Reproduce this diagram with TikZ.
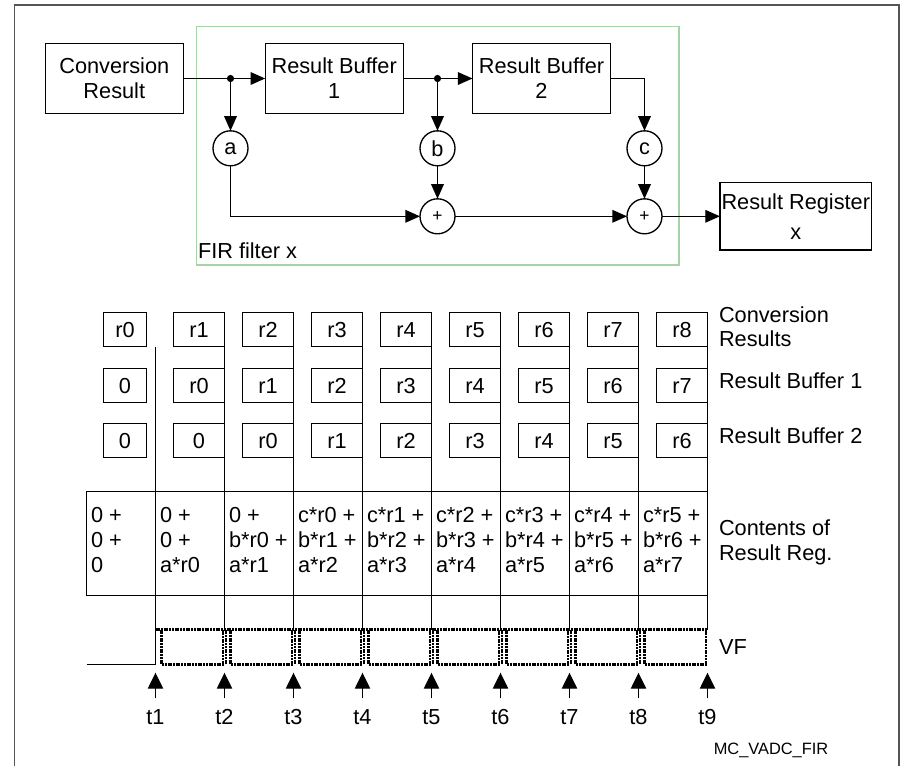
\documentclass[tikz,border=0pt]{standalone}
\usepackage{fontspec}
\setmainfont{Liberation Sans}
\usetikzlibrary{arrows.meta}
\definecolor{firgreen}{HTML}{A8D3A8}
\definecolor{framegray}{HTML}{555555}
\begin{document}
\begin{tikzpicture}[x=0.75pt,y=-0.75pt,line width=1pt,
  every node/.style={inner sep=0pt,outer sep=0pt},
  txt/.style={font=\fontsize{16.3}{18.75}\selectfont},
  blk/.style={draw,txt,align=center,minimum width=103.5pt,minimum height=52.5pt},
  circ/.style={draw,circle,minimum size=26.25pt,txt},
  plus/.style={draw,circle,minimum size=26.25pt,font=\fontsize{13}{15}\selectfont},
  arr/.style={-{Triangle[length=11pt,width=9.5pt]}},
  tarr/.style={-{Triangle[length=12pt,width=11.5pt]}},
  cell/.style={draw,txt,minimum width=38.25pt,minimum height=25.5pt,text height=11.7pt,text depth=0pt},
  tick/.style={line width=1.1pt},
  vfdot/.style={line width=2.1pt,dash pattern=on 1.5pt off 0.55pt,line cap=butt},
  lbl/.style={txt,anchor=west,align=left}]
\useasboundingbox (0,0) rectangle (904,765);
% outer frame
\draw[framegray,line width=1.1pt] (14.7,770) -- (14.7,5) -- (899,5) -- (899,770);
% FIR filter box
\node[draw=firgreen,line width=1pt,minimum width=361.7pt,minimum height=178.7pt] (fir) at (437.85,145.85) {};
\node[txt,anchor=west] (firlbl) at (198,250.5) {FIR filter x};
% blocks
\node[blk] (cr) at (114.3,78.5) {Conversion\\Result};
\node[blk] (rb1) at (334.2,78.5) {Result Buffer\\1};
\node[blk] (rb2) at (541.5,78.5) {Result Buffer\\2};
\node[blk,minimum width=113.8pt,minimum height=50.5pt] (rr) at (795.8,216.3) {Result Register\\[3.75pt]x};
\node[circ] (ca) at (230.5,148.3) {a};
\node[circ] (cb) at (437.5,148.3) {b};
\node[circ] (cc) at (644.5,148.3) {c};
\node[plus] (p1) at (437.5,216.3) {+};
\node[plus] (p2) at (644.5,216.3) {+};
\coordinate (d1) at (230.5,78.5);
\coordinate (d2) at (437.5,78.5);
\fill (d1) circle[radius=2.7pt];
\fill (d2) circle[radius=2.7pt];
\draw[arr] (cr) -- (rb1);
\draw[arr] (rb1) -- (rb2);
\draw[arr] (d1) -- (ca);
\draw[arr] (d2) -- (cb);
\draw[arr] (cb) -- (p1);
\draw[arr] (ca) |- (p1);
\draw[arr] (p1) -- (p2);
\draw[arr] (rb2) -| (cc);
\draw[arr] (cc) -- (p2);
\draw[arr] (p2) -- (rr);
% table: column 0
\node[cell,minimum width=32.25pt] (ra0) at (125,329.5) {r0};
\node[cell,minimum width=32.25pt] (rb0) at (125,385.5) {0};
\node[cell,minimum width=32.25pt] (rc0) at (125,440.5) {0};
\foreach \k/\a/\b/\d in {1/r1/r0/0,2/r2/r1/r0,3/r3/r2/r1,4/r4/r3/r2,5/r5/r4/r3,6/r6/r5/r4,7/r7/r6/r5,8/r8/r7/r6}{
  \pgfmathsetmacro\xc{155.5+\k*69-25.5}
  \node[cell] (ra\k) at (\xc,329.5) {\a};
  \node[cell] (rb\k) at (\xc,385.5) {\b};
  \node[cell] (rc\k) at (\xc,440.5) {\d};
}
% contents box
\node[draw,minimum width=465.75pt,minimum height=78pt] (cont) at (397,543.5) {};
\node[lbl] (ct0) at (91,540) {0 +\\0 +\\0};
\node[lbl] (ct1) at (160,540) {0 +\\0 +\\a*r0};
\node[lbl] (ct2) at (229,540) {0 +\\b*r0 +\\a*r1};
\foreach \k in {3,...,8}{
  \pgfmathsetmacro\xl{155.5+(\k-1)*69+4.5}
  \pgfmathtruncatemacro\ic{\k-3}
  \pgfmathtruncatemacro\ib{\k-2}
  \pgfmathtruncatemacro\ia{\k-1}
  \node[lbl] (ct\k) at (\xl,540) {c*r\ic\ +\\b*r\ib\ +\\a*r\ia};
}
% tick lines, VF waveform, arrows
\coordinate (low0) at (86.5,664.5);
\foreach \k in {1,...,9}{
  \pgfmathsetmacro\xt{155.5+(\k-1)*69}
  \coordinate (tt\k) at (\xt,346.5);
  \coordinate (tv\k) at (\xt,629.5);
  \coordinate (ab\k) at (\xt,698.3);
  \coordinate (ah\k) at (\xt,672.7);
  \node[txt] (tl\k) at (\xt,716.7) {t\k};
}
\coordinate (low1) at (155.5,664.5);
\draw[tick] (low0) -- (low1) -- (tt1);
\foreach \k in {2,...,9}{ \draw[tick] (tt\k) -- (tv\k); }
\draw[vfdot] (tv1) -- (tv9);
\foreach \k in {1,...,8}{
  \pgfmathsetmacro\xa{155.5+(\k-1)*69+6}
  \pgfmathsetmacro\xb{155.5+\k*69-1.5}
  \draw[vfdot] (\xa,629.5) -- (\xa,664.5) -- (\xb,664.5) -- (\xb,629.5);
}
\foreach \k in {2,...,8}{
  \pgfmathsetmacro\xe{155.5+(\k-1)*69+1.5}
  \draw[vfdot] (\xe,629.5) -- (\xe,664.5);
}
\foreach \k in {1,...,9}{ \draw[tarr] (ab\k) -- (ah\k); }
% row labels
\node[lbl] (l1) at (719,326.7) {Conversion\\[-1.25pt]Results};
\node[lbl] (l2) at (719,380.7) {Result Buffer 1};
\node[lbl] (l3) at (719,435.7) {Result Buffer 2};
\node[lbl] (l4) at (719,542.5) {Contents of\\Result Reg.};
\node[lbl] (l5) at (719,646.7) {VF};
\node[font=\fontsize{12.3}{14}\selectfont] (mc) at (771,750.7) {MC\_VADC\_FIR};
\end{tikzpicture}
\end{document}
